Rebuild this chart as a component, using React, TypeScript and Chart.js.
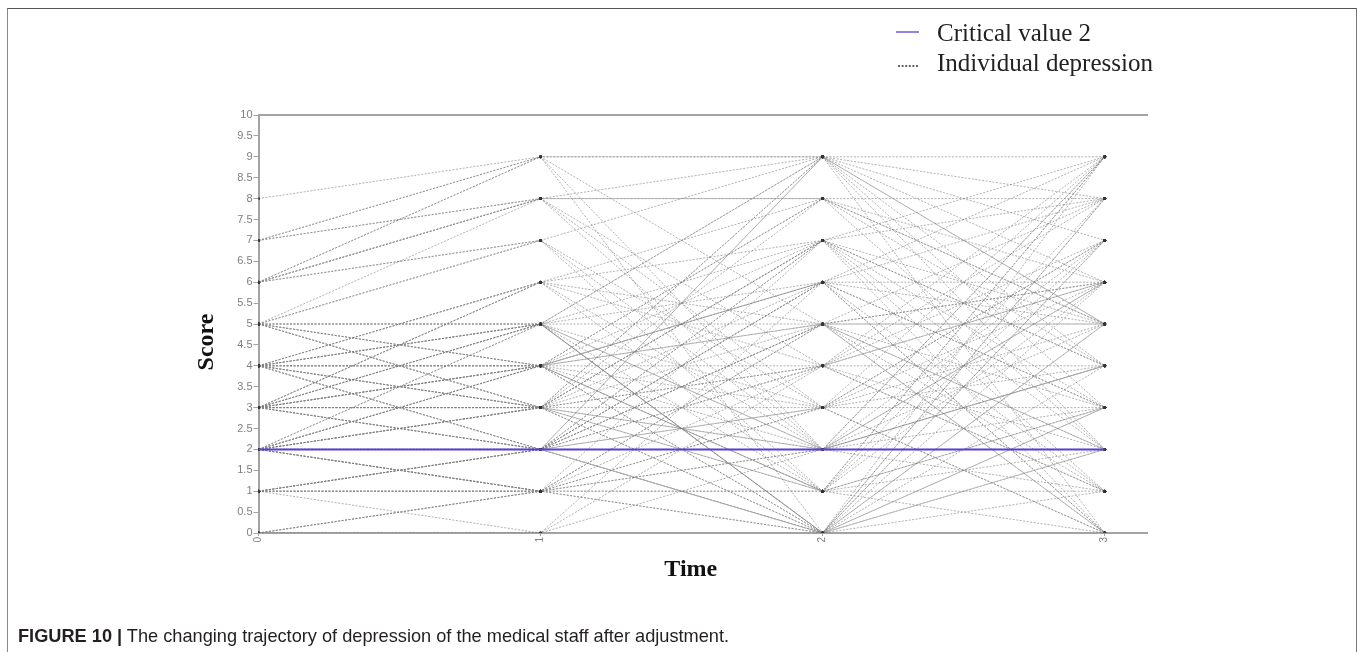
import { useEffect, useRef } from "react";
import { Chart, registerables } from "chart.js";

Chart.register(...registerables);

// ---------- data ----------
const timePoints = [0, 1, 2, 3];

const scoreT0 = [8, 7, 7, 6, 6, 6, 5, 5, 5, 5, 4, 4, 4, 4, 4, 3, 3, 3, 3, 3, 2, 2, 2, 2, 2, 1, 1, 0, 0, 5, 4, 3, 2, 2, 1, 4, 3, 5, 2, 6, 1, 4, 3, 2, 0, 5, 3, 2, 7, 4, 3, 1, 2, 5, 4, 3, 2, 0, 6, 4, 3, 2, 1, 4, 5, 2, 3, 6, 4, 2, 1, 3, 2, 3, 4, 1, 2, 3, 5, 4, 2, 3, 1, 0, 2, 4, 3, 2, 5, 6, 7, 4, 3, 2, 1, 4, 3, 2, 5, 3];
const scoreT1 = [9, 9, 8, 9, 8, 7, 7, 5, 4, 3, 6, 5, 4, 3, 2, 6, 5, 4, 3, 2, 5, 4, 3, 2, 1, 2, 1, 1, 0, 8, 5, 4, 2, 3, 1, 4, 3, 5, 4, 9, 2, 3, 5, 1, 0, 4, 2, 2, 8, 6, 4, 1, 3, 7, 2, 6, 5, 1, 7, 5, 3, 2, 2, 4, 3, 1, 2, 8, 3, 4, 0, 5, 2, 3, 4, 2, 3, 4, 5, 5, 1, 2, 1, 1, 4, 3, 5, 2, 4, 8, 9, 6, 3, 3, 2, 2, 4, 1, 3, 6];
const scoreT2 = [9, 5, 9, 2, 8, 3, 9, 5, 6, 2, 1, 7, 4, 5, 0, 4, 3, 2, 3, 6, 0, 7, 1, 2, 5, 4, 1, 3, 6, 2, 9, 8, 0, 7, 2, 1, 6, 0, 5, 9, 0, 4, 2, 0, 4, 3, 5, 6, 8, 7, 0, 7, 4, 2, 3, 5, 9, 2, 1, 0, 9, 3, 5, 6, 8, 1, 7, 4, 0, 1, 2, 6, 9, 0, 8, 7, 9, 1, 2, 1, 3, 4, 5, 0, 6, 7, 0, 5, 0, 3, 0, 2, 7, 2, 6, 9, 5, 4, 1, 8];
const scoreT3 = [9, 6, 8, 4, 6, 5, 7, 5, 3, 2, 9, 4, 4, 1, 8, 2, 6, 9, 3, 0, 5, 2, 6, 2, 8, 7, 1, 0, 9, 1, 6, 5, 3, 9, 5, 2, 8, 4, 0, 5, 7, 9, 3, 2, 6, 7, 5, 1, 8, 3, 1, 4, 8, 6, 4, 2, 0, 6, 3, 9, 2, 7, 3, 6, 5, 0, 8, 1, 6, 9, 4, 3, 4, 7, 2, 0, 5, 3, 9, 8, 9, 1, 2, 5, 0, 5, 2, 6, 3, 0, 8, 7, 1, 4, 5, 3, 0, 6, 7, 4];

const criticalValue = 2;
const yMin = 0;
const yMax = 10;
const yStep = 0.5;

const legendLabels = ["Critical value 2", "Individual depression"];
const yTitle = "Score";
const xTitle = "Time";
const captionBold = "FIGURE 10 |";
const captionText = " The changing trajectory of depression of the medical staff after adjustment.";

// ---------- styles ----------
const PURPLE = "#5a3fd2";
const LINE_GRAY = "rgba(125,125,125,0.6)";
const AXIS_GRAY = "#a3a3a3";
const TICK_GRAY = "#808080";
const SERIF = '"Liberation Serif", "Times New Roman", serif';
const SANS = '"Liberation Sans", Arial, sans-serif';

const legendPlugin = {
  id: "figureLegend",
  afterDraw(chart: any) {
    const ctx = chart.ctx as CanvasRenderingContext2D;
    ctx.save();
    ctx.setLineDash([]);
    ctx.strokeStyle = PURPLE;
    ctx.lineWidth = 1.3;
    ctx.beginPath();
    ctx.moveTo(896, 32);
    ctx.lineTo(919, 32);
    ctx.stroke();
    ctx.setLineDash([2, 1.6]);
    ctx.strokeStyle = "#333";
    ctx.lineWidth = 1.6;
    ctx.beginPath();
    ctx.moveTo(898, 66);
    ctx.lineTo(918, 66);
    ctx.stroke();
    ctx.setLineDash([]);
    ctx.fillStyle = "#222";
    ctx.font = `25px ${SERIF}`;
    ctx.textBaseline = "alphabetic";
    ctx.textAlign = "left";
    ctx.fillText(legendLabels[0], 937, 41);
    ctx.fillText(legendLabels[1], 937, 71);
    ctx.restore();
  },
};

export default function App() {
  const canvasRef = useRef<HTMLCanvasElement | null>(null);

  useEffect(() => {
    if (!canvasRef.current) return;
    const individualSets = scoreT0.map((_, i) => {
      const series = [scoreT0[i], scoreT1[i], scoreT2[i], scoreT3[i]];
      return {
        label: legendLabels[1],
        data: series.map((y, j) => ({ x: timePoints[j], y })),
        borderColor: LINE_GRAY,
        borderWidth: 1,
        borderDash: [2, 1.5],
        pointRadius: 1.5,
        pointBackgroundColor: "#333",
        pointBorderWidth: 0,
        tension: 0,
        fill: false,
      };
    });

    const chart = new Chart(canvasRef.current, {
      type: "line",
      data: {
        datasets: [
          {
            label: legendLabels[0],
            data: [
              { x: timePoints[0], y: criticalValue },
              { x: timePoints[timePoints.length - 1], y: criticalValue },
            ],
            borderColor: PURPLE,
            borderWidth: 2,
            pointRadius: 0,
            fill: false,
          },
          ...individualSets,
        ],
      },
      options: {
        animation: false,
        responsive: false,
        maintainAspectRatio: false,
        events: [],
        layout: {
          padding: { left: 188.6, right: 211, top: 115, bottom: 63.6 },
        },
        plugins: {
          legend: { display: false },
          tooltip: { enabled: false },
        },
        scales: {
          x: {
            type: "linear",
            position: "bottom",
            min: 0,
            max: 3.15,
            afterBuildTicks: (scale: any) => {
              scale.ticks = timePoints.map((v) => ({ value: v }));
            },
            afterFit: (scale: any) => {
              scale.height = 55.4;
            },
            ticks: {
              minRotation: 90,
              maxRotation: 90,
              autoSkip: false,
              padding: 1,
              color: TICK_GRAY,
              font: { family: SANS, size: 10 },
            },
            grid: {
              display: true,
              drawOnChartArea: false,
              drawTicks: true,
              tickLength: 3,
              color: AXIS_GRAY,
            },
            border: { display: true, color: AXIS_GRAY, width: 2 },
            title: {
              display: true,
              text: xTitle + "    ",
              color: "#111",
              font: { family: SERIF, size: 24, weight: "bold" },
              padding: { top: 4, bottom: 4 },
            },
          },
          xTop: {
            type: "linear",
            position: "top",
            min: 0,
            max: 3.15,
            afterFit: (scale: any) => {
              scale.height = 0;
            },
            ticks: { display: false },
            grid: { display: false, drawTicks: false },
            border: { display: true, color: AXIS_GRAY, width: 2 },
          },
          y: {
            type: "linear",
            position: "left",
            min: yMin,
            max: yMax,
            afterFit: (scale: any) => {
              scale.width = 69.9;
            },
            ticks: {
              stepSize: yStep,
              autoSkip: false,
              padding: 1,
              color: TICK_GRAY,
              font: { family: SANS, size: 11 },
              callback: (v: any) => `${+v}`,
            },
            grid: {
              display: true,
              drawOnChartArea: false,
              drawTicks: true,
              tickLength: 5,
              color: AXIS_GRAY,
            },
            border: { display: true, color: AXIS_GRAY, width: 2 },
            title: {
              display: true,
              text: yTitle + "      ",
              color: "#111",
              font: { family: SERIF, size: 24, weight: "bold" },
              padding: { top: 4, bottom: 4 },
            },
          },
        },
      } as any,
      plugins: [legendPlugin],
    });
    return () => chart.destroy();
  }, []);

  return (
    <div
      style={{
        position: "fixed",
        left: 0,
        top: 0,
        width: 1358,
        height: 652,
        overflow: "hidden",
        background: "#fff",
      }}
    >
      <div
        style={{
          position: "absolute",
          left: 7,
          top: 8,
          width: 1350,
          height: 700,
          boxSizing: "border-box",
          borderTop: "1px solid #555",
          borderLeft: "1px solid #888",
          borderRight: "1px solid #777",
        }}
      />
      <canvas
        ref={canvasRef}
        width={1358}
        height={652}
        style={{ position: "absolute", left: 0, top: 0, width: 1358, height: 652 }}
      />
      <div
        style={{
          position: "absolute",
          left: 18,
          top: 627,
          fontFamily: SANS,
          fontSize: 18.2,
          lineHeight: "18px",
          color: "#231f20",
          whiteSpace: "nowrap",
        }}
      >
        <span style={{ fontWeight: "bold" }}>{captionBold}</span>
        <span>{captionText}</span>
      </div>
    </div>
  );
}
